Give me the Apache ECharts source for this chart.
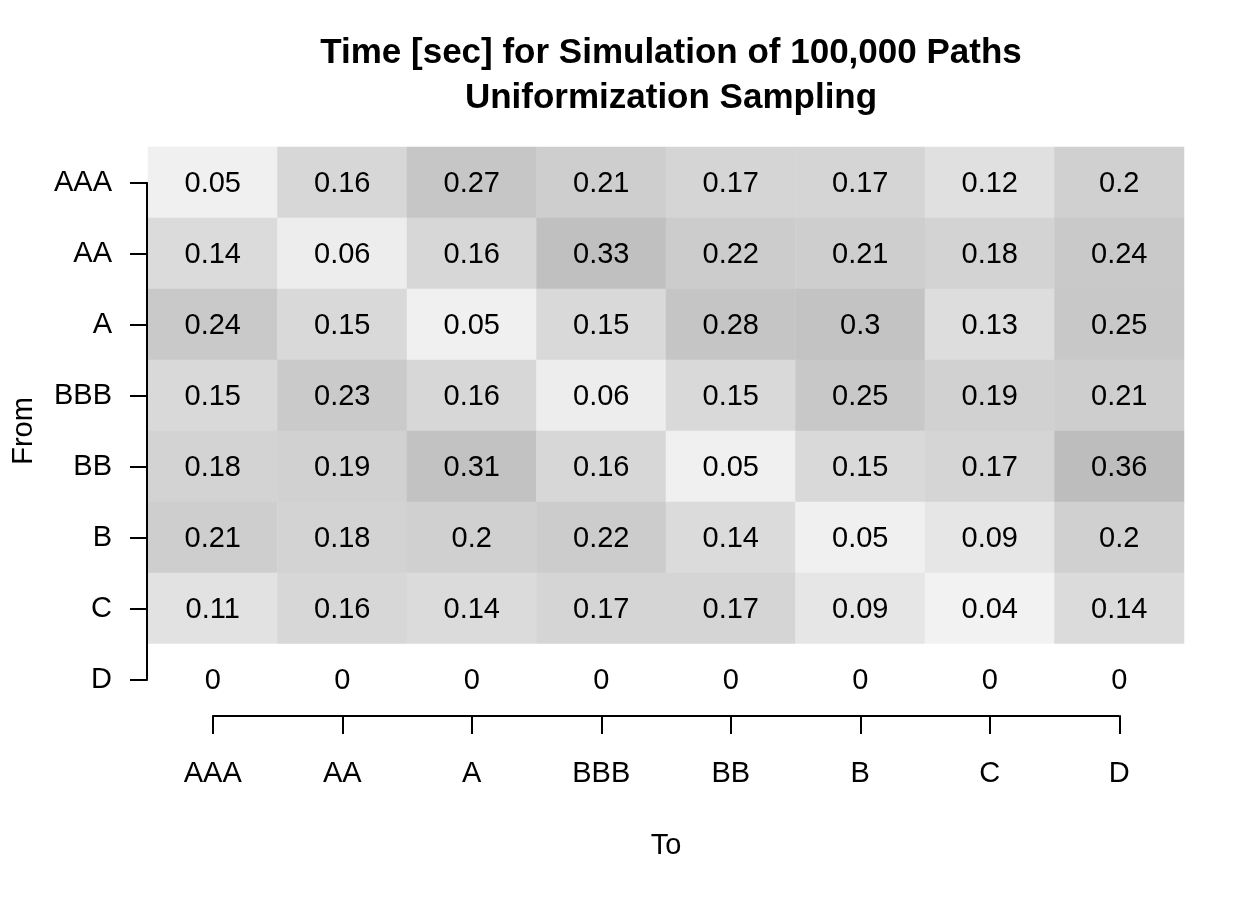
<!DOCTYPE html>
<html>
<head>
<meta charset="utf-8">
<script src="https://cdn.jsdelivr.net/npm/echarts@6/dist/echarts.min.js"></script>
<style>
html,body{margin:0;padding:0;background:#fff;}
#chart{width:1260px;height:900px;}
</style>
</head>
<body>
<div id="chart"></div>
<script>
const toLabels = ['AAA','AA','A','BBB','BB','B','C','D'];
const fromLabels = ['AAA','AA','A','BBB','BB','B','C','D'];
const rowAAA = [0.05,0.16,0.27,0.21,0.17,0.17,0.12,0.2];
const rowAA  = [0.14,0.06,0.16,0.33,0.22,0.21,0.18,0.24];
const rowA   = [0.24,0.15,0.05,0.15,0.28,0.3,0.13,0.25];
const rowBBB = [0.15,0.23,0.16,0.06,0.15,0.25,0.19,0.21];
const rowBB  = [0.18,0.19,0.31,0.16,0.05,0.15,0.17,0.36];
const rowB   = [0.21,0.18,0.2,0.22,0.14,0.05,0.09,0.2];
const rowC   = [0.11,0.16,0.14,0.17,0.17,0.09,0.04,0.14];
const rowD   = [0,0,0,0,0,0,0,0];
const rows = [rowAAA,rowAA,rowA,rowBBB,rowBB,rowB,rowC,rowD];
const titleText = 'Time [sec] for Simulation of 100,000 Paths\nUniformization Sampling';

const shaded = [];
const zeros = [];
rows.forEach((r, yi) => r.forEach((v, xi) => {
  if (v > 0) shaded.push([xi, yi, v]); else zeros.push([xi, yi, v]);
}));

const FONT = '"Liberation Sans", Arial, Helvetica, sans-serif';
const FS = 29;
const chart = echarts.init(document.getElementById('chart'), null, {renderer:'canvas'});
const labelCfg = {show: true, color: '#000', fontFamily: FONT, fontSize: FS,
  offset: [0, 1.5], formatter: p => String(p.value[2])};
const option = {
  backgroundColor: '#ffffff',
  animation: false,
  title: {
    text: titleText,
    left: 666, top: 26,
    textAlign: 'center',
    textStyle: {fontFamily: FONT, fontWeight: 'bold', fontSize: 35, color: '#000', lineHeight: 45}
  },
  grid: {left: 148, right: 76, top: 147, bottom: 185, containLabel: false},
  xAxis: {
    type: 'category', data: toLabels, position: 'bottom',
    name: 'To', nameLocation: 'middle', nameGap: 116,
    nameTextStyle: {fontFamily: FONT, fontSize: FS, color: '#000'},
    axisLine: {show: false},
    axisTick: {show: true, alignWithLabel: true, length: 19, lineStyle: {color: '#000', width: 2}},
    axisLabel: {fontFamily: FONT, fontSize: FS, color: '#000', margin: 44},
    splitLine: {show: false}
  },
  yAxis: {
    type: 'category', data: fromLabels, inverse: true,
    name: 'From', nameLocation: 'middle', nameGap: 110, nameRotate: 90,
    nameTextStyle: {fontFamily: FONT, fontSize: FS, color: '#000'},
    axisLine: {show: false},
    axisTick: {show: true, alignWithLabel: true, length: 18, lineStyle: {color: '#000', width: 2}},
    axisLabel: {fontFamily: FONT, fontSize: FS, color: '#000', margin: 36, padding: [3, 0, 0, 0]},
    splitLine: {show: false}
  },
  visualMap: {
    show: false, type: 'continuous', min: 0.04, max: 0.36, dimension: 2, seriesIndex: 0,
    inRange: {color: ['#f2f2f2','#e3e3e3','#d5d5d5','#cacaca','#c3c3c3','#bdbdbd']}
  },
  series: [{
    type: 'heatmap',
    data: shaded,
    label: labelCfg,
    itemStyle: {borderWidth: 0},
    emphasis: {disabled: true}
  }, {
    type: 'heatmap',
    data: zeros,
    label: labelCfg,
    itemStyle: {color: '#ffffff', borderWidth: 0},
    emphasis: {disabled: true}
  }]
};
chart.setOption(option);

function drawAxisLines(){
  const x0 = chart.convertToPixel({xAxisIndex:0}, toLabels[0]);
  const x1 = chart.convertToPixel({xAxisIndex:0}, toLabels[toLabels.length-1]);
  const y0 = chart.convertToPixel({yAxisIndex:0}, fromLabels[0]);
  const y1 = chart.convertToPixel({yAxisIndex:0}, fromLabels[fromLabels.length-1]);
  const rect = chart.getModel().getComponent('grid').coordinateSystem.getRect();
  const gx = rect.x, gy = rect.y + rect.height;
  chart.setOption({graphic: [
    {type:'line', z: 100, shape:{x1:x0, y1:gy+1, x2:x1, y2:gy+1}, style:{stroke:'#000', lineWidth:2}},
    {type:'line', z: 100, shape:{x1:gx-1, y1:y0, x2:gx-1, y2:y1}, style:{stroke:'#000', lineWidth:2}}
  ]});
}
drawAxisLines();
</script>
</body>
</html>
